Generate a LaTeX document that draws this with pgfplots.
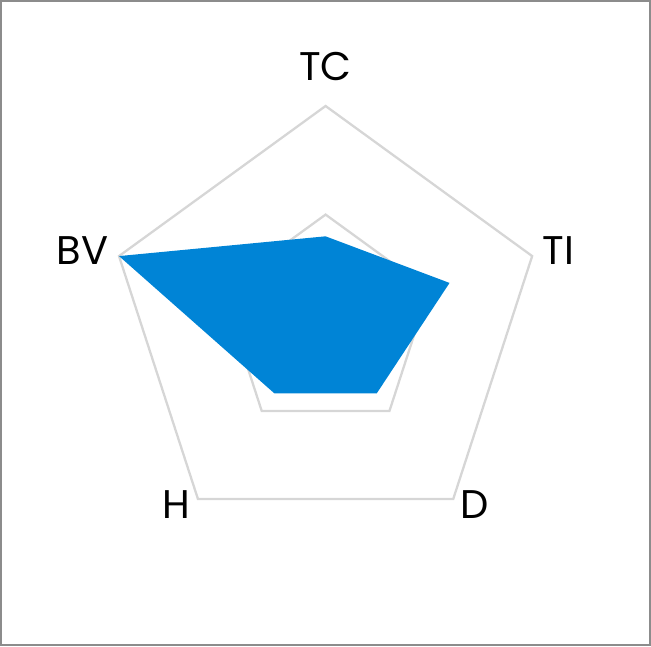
\documentclass[border=0pt]{standalone}
\usepackage{pgfplots}
\pgfplotsset{compat=1.18}
\usepackage{fontspec}
\setmainfont{Poppins}
\definecolor{gridgray}{HTML}{D6D6D6}
\definecolor{fillblue}{HTML}{0084D6}
\definecolor{framegray}{HTML}{8C8C8C}
\begin{document}
\begin{tikzpicture}
\begin{axis}[
  scale only axis,
  width=651pt, height=646pt,
  xmin=-7.495, xmax=7.491,
  ymin=-7.431, ymax=7.440,
  hide axis,
  clip=false,
]
% grid rings
\addplot[draw=gridgray, line width=2.3pt, line join=miter, mark=none, data cs=polar]
  coordinates {(90,5) (18,5) (-54,5) (-126,5) (162,5)} -- cycle;
\addplot[draw=gridgray, line width=2.3pt, line join=miter, mark=none, data cs=polar]
  coordinates {(90,2.5) (18,2.5) (-54,2.5) (-126,2.5) (162,2.5)} -- cycle;
% series
\addplot[fill=fillblue, draw=none, mark=none, data cs=polar]
  coordinates {(90,2) (18,3) (-54,2) (-126,2) (162,5)} -- cycle;
% labels
\tikzset{lbl/.style={anchor=base, inner sep=0pt, font=\fontsize{40}{48}\selectfont}}
\node[lbl] at (axis cs:0,5.582) {TC};
\node[lbl] at (axis cs:5.357,1.36) {TI};
\node[lbl] at (axis cs:3.439,-4.491) {D};
\node[lbl] at (axis cs:-3.428,-4.491) {H};
\node[lbl] at (axis cs:-5.596,1.36) {BV};
\draw[framegray, line width=2pt] ([shift={(1pt,1pt)}]rel axis cs:0,0) rectangle ([shift={(-1pt,-1pt)}]rel axis cs:1,1);
\end{axis}
\end{tikzpicture}
\end{document}
